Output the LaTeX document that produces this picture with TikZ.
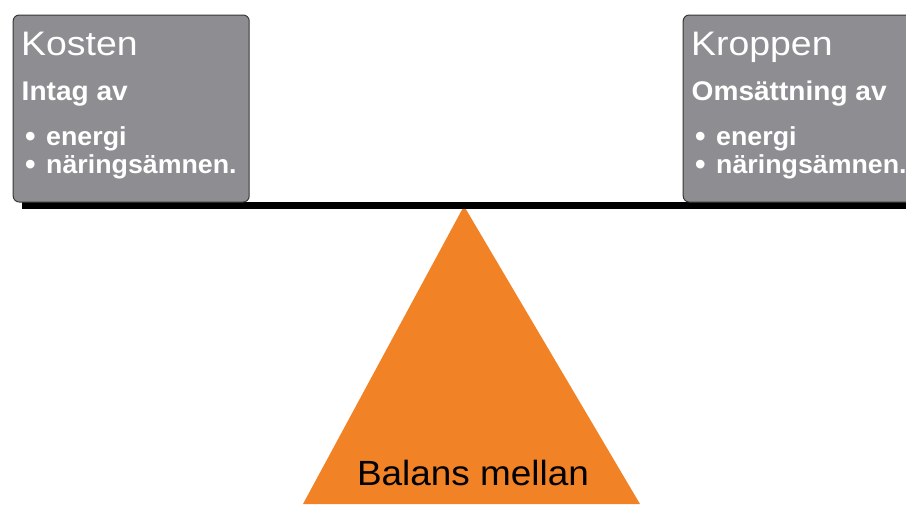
\documentclass[tikz,border=0pt]{standalone}
\usepackage{fontspec}
\setmainfont{Liberation Sans}
\newfontfamily\headfont[FakeStretch=1.1]{Liberation Sans}
\newfontfamily\subfont[FakeStretch=1.04]{Liberation Sans}
\newfontfamily\bulfont[FakeStretch=1.03]{Liberation Sans}
\newfontfamily\midfont[FakeStretch=1.055]{Liberation Sans}
\definecolor{boxgray}{RGB}{142,142,146}
\definecolor{triorange}{RGB}{242,130,38}
\definecolor{boxedge}{RGB}{55,55,55}
\tikzset{
  graybox/.style={draw=boxedge, line width=1pt, fill=boxgray, rounded corners=6pt,
    minimum width=236pt, minimum height=187pt, anchor=north west, inner sep=0pt},
  headtext/.style={anchor=base west, inner sep=0pt, text=white, font=\headfont\fontsize{34}{34}\selectfont},
  subtext/.style={anchor=base west, inner sep=0pt, text=white, font=\subfont\bfseries\fontsize{27}{27}\selectfont},
  bultext/.style={anchor=base west, inner sep=0pt, text=white, font=\bulfont\bfseries\fontsize{26}{26}\selectfont},
  dottext/.style={anchor=base west, inner sep=0pt, text=white, font=\bfseries\fontsize{30}{30}\selectfont},
  mid/.style={anchor=base, inner sep=0pt, text=black, font=\midfont\fontsize{35}{35}\selectfont}
}
\begin{document}
\begin{tikzpicture}[x=1pt,y=-1pt]
\useasboundingbox (0,0) rectangle (906,504);
\clip (0,0) rectangle (906,504);
% fulcrum
\coordinate (apex) at (464,206);
\coordinate (bl) at (303,504);
\coordinate (br) at (640,504);
\fill[triorange] (apex) -- (bl) -- (br) -- cycle;
% beam
\coordinate (beamL) at (22,201.5);
\coordinate (beamR) at (910,208.5);
\fill[black] (beamL) rectangle (beamR);
% boxes
\node[graybox] (kosten) at (12.7,14.5) {};
\node[graybox] (kroppen) at (682.7,14.5) {};
% left texts
\node[headtext] (kt) at (21,55.7) {Kosten};
\node[subtext] (ks) at (21.5,100) {Intag av};
\node[dottext] (kb1) at (25,146) {•};
\node[bultext] (ke1) at (46,145) {energi};
\node[dottext] (kb2) at (25,174) {•};
\node[bultext] (ke2) at (46,173) {näringsämnen.};
% right texts
\node[headtext] (rt) at (691,55.7) {Kroppen};
\node[subtext] (rs) at (691.5,100) {Omsättning av};
\node[dottext] (rb1) at (695,146) {•};
\node[bultext] (re1) at (716,145) {energi};
\node[dottext] (rb2) at (695,174) {•};
\node[bultext] (re2) at (716,173) {näringsämnen.};
% centre text
\node[mid] (bal) at (473,485.7) {Balans mellan};
\end{tikzpicture}
\end{document}
